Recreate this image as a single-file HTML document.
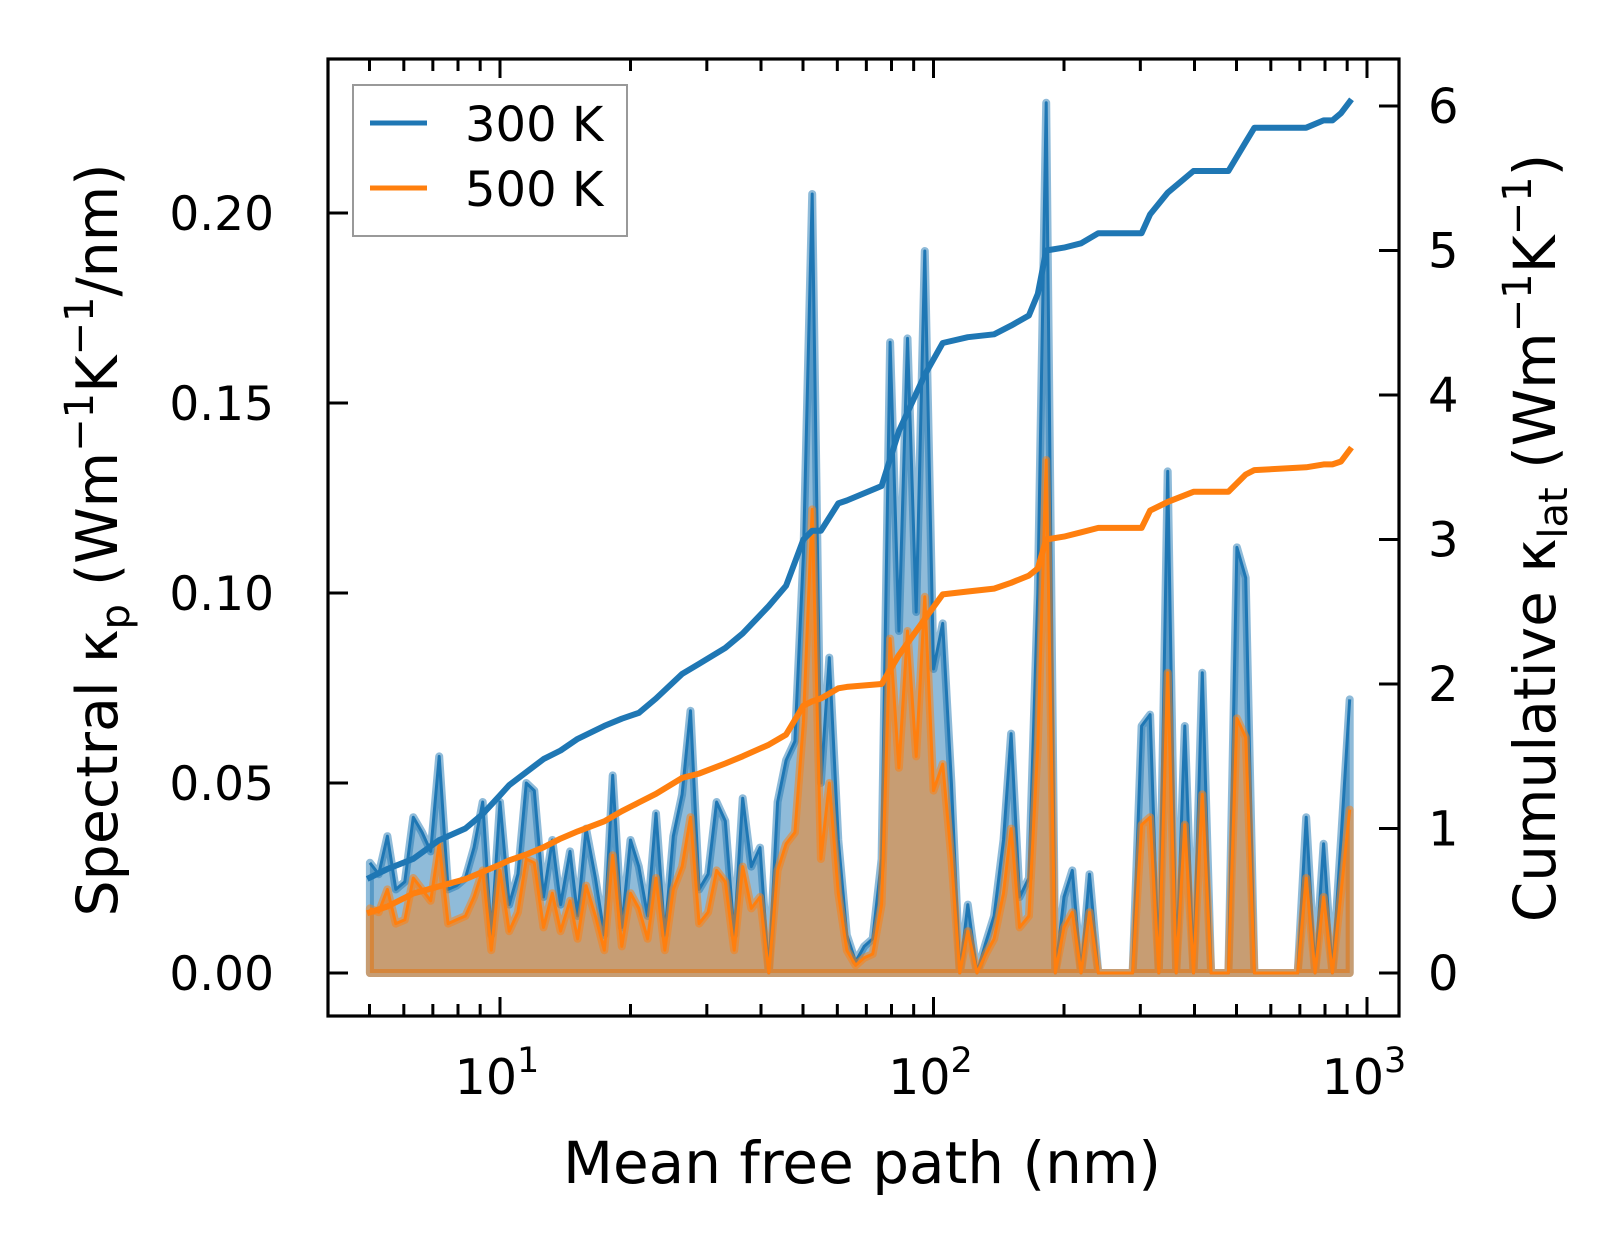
<!DOCTYPE html>
<html><head><meta charset="utf-8"><style>
html,body{margin:0;padding:0;background:#fff}
svg{display:block}
text{font-family:"DejaVu Sans","Liberation Sans",sans-serif;fill:#000}
</style></head><body>
<svg id="chart" xmlns="http://www.w3.org/2000/svg" width="1623" height="1254" viewBox="0 0 1623 1254">
<g id="fills"></g>
<g id="cum"></g>
<g id="axes"></g>
</svg>
<script>
const mfp=[5.01,5.25,5.50,5.75,6.03,6.31,6.61,6.92,7.24,7.59,7.94,8.32,8.71,9.12,9.55,10.0,10.5,11.0,11.5,12.0,12.6,13.2,13.8,14.5,15.1,15.8,16.6,17.4,18.2,19.1,20.0,20.9,21.9,22.9,24.0,25.1,26.3,27.5,28.8,30.2,31.6,33.1,34.7,36.3,38.0,39.8,41.7,43.7,45.7,47.9,50.1,52.5,55.0,57.5,60.3,63.1,66.1,69.2,72.4,75.9,79.4,83.2,87.1,91.2,95.5,100,105,110,115,120,126,132,138,145,151,158,166,174,182,191,200,209,219,229,240,251,263,275,288,302,316,331,347,363,380,398,417,437,457,479,501,525,550,575,603,631,661,692,724,759,794,832,871,912];
const spec300=[0.029,0.026,0.036,0.022,0.024,0.041,0.037,0.032,0.057,0.022,0.023,0.025,0.033,0.045,0.010,0.045,0.018,0.026,0.050,0.048,0.020,0.035,0.018,0.032,0.015,0.038,0.025,0.010,0.052,0.012,0.035,0.028,0.015,0.042,0.010,0.036,0.047,0.069,0.022,0.026,0.045,0.040,0.010,0.046,0.028,0.033,0.000,0.045,0.056,0.061,0.110,0.205,0.050,0.083,0.035,0.010,0.003,0.007,0.009,0.030,0.166,0.090,0.167,0.095,0.190,0.080,0.092,0.050,0.000,0.018,0.000,0.008,0.015,0.035,0.063,0.020,0.025,0.100,0.229,0.000,0.020,0.027,0.000,0.026,0,0,0,0,0,0.065,0.068,0,0.132,0,0.065,0,0.079,0,0,0,0.112,0.104,0,0,0,0,0,0,0.041,0,0.034,0,0.035,0.072];
const spec500=[0.017,0.016,0.022,0.013,0.014,0.025,0.022,0.019,0.034,0.013,0.014,0.015,0.020,0.027,0.006,0.027,0.011,0.016,0.030,0.029,0.012,0.021,0.011,0.019,0.009,0.023,0.015,0.006,0.031,0.007,0.021,0.017,0.009,0.025,0.006,0.022,0.028,0.041,0.013,0.016,0.027,0.024,0.006,0.028,0.017,0.020,0.000,0.027,0.034,0.037,0.066,0.122,0.030,0.050,0.021,0.006,0.002,0.004,0.005,0.018,0.088,0.054,0.090,0.057,0.099,0.048,0.055,0.030,0.000,0.011,0.000,0.005,0.009,0.021,0.038,0.012,0.015,0.060,0.135,0.000,0.012,0.016,0.000,0.016,0,0,0,0,0,0.039,0.041,0,0.079,0,0.039,0,0.047,0,0,0,0.067,0.062,0,0,0,0,0,0,0.025,0,0.020,0,0.021,0.043];
const cumMfp=[5.01,5.5,6.31,7.24,8.32,9.12,10,10.5,11.5,12.6,13.8,15.1,17.4,19.1,20.9,22.9,26.3,28.8,33.1,36.3,41.7,45.7,50.1,52.5,55,60.3,63.1,75.9,83.2,95.5,105,120,138,151,166,174,182,200,219,240,275,302,316,347,398,479,525,550,724,794,832,871,912];
const cum300=[0.66,0.72,0.79,0.92,1.00,1.10,1.23,1.30,1.39,1.48,1.54,1.62,1.71,1.76,1.80,1.90,2.07,2.14,2.25,2.35,2.54,2.68,3.00,3.06,3.06,3.25,3.27,3.37,3.75,4.14,4.36,4.40,4.42,4.48,4.55,4.70,5.00,5.02,5.05,5.12,5.12,5.12,5.25,5.40,5.55,5.55,5.75,5.85,5.85,5.90,5.90,5.95,6.03];
const cum500=[0.42,0.46,0.55,0.60,0.65,0.70,0.75,0.78,0.82,0.87,0.93,0.98,1.05,1.12,1.18,1.24,1.35,1.38,1.45,1.50,1.58,1.65,1.85,1.88,1.90,1.97,1.98,2.00,2.20,2.45,2.62,2.64,2.66,2.70,2.75,2.80,3.00,3.02,3.05,3.08,3.08,3.08,3.20,3.26,3.33,3.33,3.45,3.48,3.50,3.52,3.52,3.54,3.62];
const leftTicks=[0,0.05,0.10,0.15,0.20];
const leftTickLabels=["0.00","0.05","0.10","0.15","0.20"];
const rightTicks=[0,1,2,3,4,5,6];
const xMajor=[10,100,1000];
const xMajorExp=["1","2","3"];

const NS="http://www.w3.org/2000/svg";
const L=328,R=1399,T=59,B=1016;
const X=v=>500+(Math.log10(v)-1)*433.5;
const YL=v=>973-v*3800;
const YR=v=>973-v*144.5;
function mk(tag,attrs,parent){const e=document.createElementNS(NS,tag);for(const k in attrs)e.setAttribute(k,attrs[k]);parent.appendChild(e);return e;}
const fills=document.getElementById('fills'),cum=document.getElementById('cum'),axes=document.getElementById('axes');

function drawSpec(vals,color,rgba,name){
  let pts=mfp.map((m,i)=>X(m).toFixed(1)+','+YL(vals[i]).toFixed(1));
  const poly=X(mfp[0]).toFixed(1)+','+YL(0)+' '+pts.join(' ')+' '+X(mfp[mfp.length-1]).toFixed(1)+','+YL(0);
  const p=mk('polygon',{points:poly,fill:rgba(0.5),stroke:rgba(0.5),'stroke-width':8,'stroke-linejoin':'round'},fills);
  
  
  const l=mk('polyline',{points:pts.join(' '),fill:'none',stroke:color,'stroke-width':3,'stroke-linejoin':'round'},fills);
  
  
}
drawSpec(spec300,'#1f77b4',a=>'rgba(31,119,180,'+a+')','spectral-300k');
drawSpec(spec500,'#ff7f0e',a=>'rgba(255,127,14,'+a+')','spectral-500k');

function drawCum(vals,color,name){
  const pts=cumMfp.map((m,i)=>X(m).toFixed(1)+','+YR(vals[i]).toFixed(1)).join(' ');
  const l=mk('polyline',{points:pts,fill:'none',stroke:color,'stroke-width':6,'stroke-linejoin':'round','stroke-linecap':'square'},cum);
  
  
}
drawCum(cum300,'#1f77b4','cumulative-300k');
drawCum(cum500,'#ff7f0e','cumulative-500k');

const fr=mk('rect',{x:L,y:T,width:R-L,height:B-T,fill:'none',stroke:'#000','stroke-width':3.2},axes);


leftTicks.forEach((v,i)=>{
  const y=YL(v);
  mk('line',{x1:L,x2:L+20,y1:y,y2:y,stroke:'#000','stroke-width':3},axes);
  const t=mk('text',{x:274,y:y+17,'font-size':47,'text-anchor':'end'},axes);
  t.textContent=leftTickLabels[i];
  
  
});
rightTicks.forEach(v=>{
  const y=YR(v);
  mk('line',{x1:R-20,x2:R,y1:y,y2:y,stroke:'#000','stroke-width':3},axes);
  const t=mk('text',{x:1428,y:y+17,'font-size':48,'text-anchor':'start'},axes);
  t.textContent=String(v);
  
  
});
for(let e=0;e<=3;e++){for(let k=1;k<=9;k++){const v=k*Math.pow(10,e);const x=X(v);if(x<L+2||x>R-2)continue;const len=k===1?19:12;
  mk('line',{x1:x,x2:x,y1:B,y2:B-len,stroke:'#000','stroke-width':3},axes);
  mk('line',{x1:x,x2:x,y1:T,y2:T+len,stroke:'#000','stroke-width':3},axes);}}
xMajor.forEach((v,i)=>{
  const t=mk('text',{x:X(v)-3,y:1094,'font-size':49,'text-anchor':'middle'},axes);
  
  
  t.innerHTML='10<tspan font-size="35" dy="-22">'+xMajorExp[i]+'</tspan>';
});
</script>
<svg style="position:absolute;left:0;top:0" width="1623" height="1254" xmlns="http://www.w3.org/2000/svg">
<text x="862" y="1183" font-size="58" text-anchor="middle">Mean free path (nm)</text>
<text transform="translate(117,540) rotate(-90)" font-size="57" text-anchor="middle">Spectral κ<tspan font-size="40" dy="12">p</tspan><tspan dy="-12"> (Wm</tspan><tspan font-size="40" dy="-24">−1</tspan><tspan dy="24">K</tspan><tspan font-size="40" dy="-24">−1</tspan><tspan dy="24">/nm)</tspan></text>
<text transform="translate(1555,538) rotate(-90)" font-size="58" text-anchor="middle">Cumulative κ<tspan font-size="40" dy="12">lat</tspan><tspan dy="-12"> (Wm</tspan><tspan font-size="40" dy="-24">−1</tspan><tspan dy="24">K</tspan><tspan font-size="40" dy="-24">−1</tspan><tspan dy="24">)</tspan></text>
<g>
<rect x="353" y="85" width="274" height="151" fill="#fff" fill-opacity="0.8" stroke="#999" stroke-width="2"/>
<line x1="370" x2="427" y1="123" y2="123" stroke="#1f77b4" stroke-width="5"/>
<text x="465" y="141" font-size="48">300 K</text>
<line x1="370" x2="427" y1="188" y2="188" stroke="#ff7f0e" stroke-width="5"/>
<text x="465" y="206" font-size="48">500 K</text>
</g>
</svg>
</body></html>
